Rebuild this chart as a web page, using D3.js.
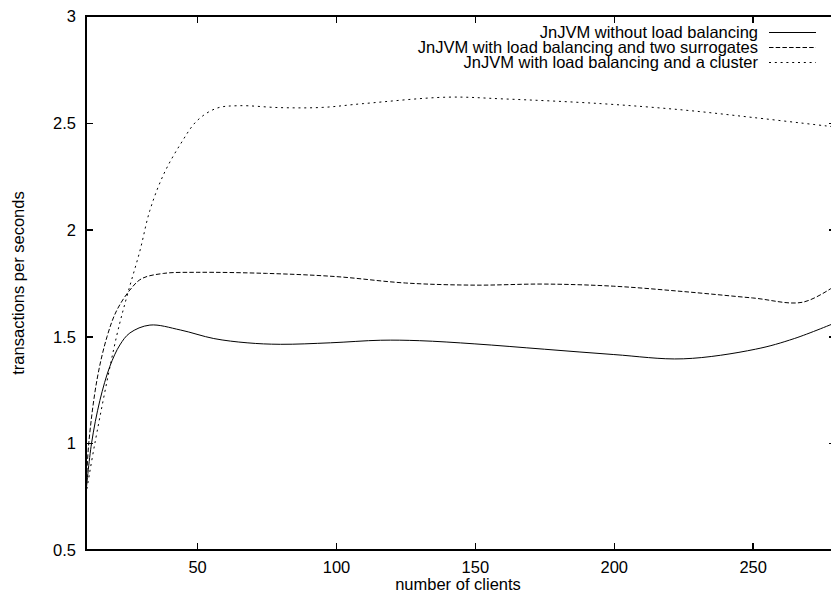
<!DOCTYPE html>
<html>
<head>
<meta charset="utf-8">
<script src="https://cdn.jsdelivr.net/npm/d3@7"></script>
<style>
  body { margin: 0; background: #fff; }
  svg text { font-family: "Liberation Sans", Arial, Helvetica, sans-serif; }
</style>
</head>
<body>
<div id="chart"></div>
<script>
// number of clients vs transactions per second
var clientsNone = [10, 12, 15, 18.6, 22.2, 25.8, 33, 44, 56, 68, 80, 98, 116, 130, 150, 175, 200, 225, 251, 265, 280];
var tpsNone =     [0.77, 1.0, 1.2, 1.36, 1.46, 1.516, 1.553, 1.53, 1.49, 1.47, 1.463, 1.47, 1.482, 1.48, 1.465, 1.44, 1.415, 1.395, 1.44, 1.49, 1.565];

var clientsTwo = [10, 11, 14, 17.6, 21, 25.8, 30, 38, 50, 75, 100, 125, 150, 175, 200, 225, 250, 268, 280];
var tpsTwo =     [0.77, 1.0, 1.3, 1.5, 1.62, 1.717, 1.77, 1.795, 1.80, 1.795, 1.78, 1.75, 1.74, 1.745, 1.735, 1.71, 1.68, 1.66, 1.74];

var clientsCluster = [10, 13.2, 21, 25, 29.4, 33, 38, 44, 50, 57, 65, 80, 95, 110, 140, 160, 195, 225, 250, 280];
var tpsCluster =     [0.76, 1.0, 1.5, 1.70, 1.90, 2.09, 2.26, 2.40, 2.51, 2.568, 2.58, 2.571, 2.572, 2.59, 2.62, 2.612, 2.59, 2.56, 2.525, 2.48];

var seriesNames = [
    "JnJVM without load balancing",
    "JnJVM with load balancing and two surrogates",
    "JnJVM with load balancing and a cluster"
];
var xTicks = [50, 100, 150, 200, 250];
var yTicks = [0.5, 1, 1.5, 2, 2.5, 3];

var width = 831, height = 601;
var plotLeft = 86, plotRight = 836, plotTop = 16, plotBottom = 550;
var fontSize = "16.5px";

var svg = d3.select("#chart")
    .append("svg")
    .attr("width", width)
    .attr("height", height);

var x = d3.scaleLinear().domain([10, 280]).range([plotLeft, plotRight]);
var y = d3.scaleLinear().domain([0.5, 3]).range([plotBottom, plotTop]);

svg.append("defs").append("clipPath")
    .attr("id", "plotClip")
    .append("rect")
    .attr("x", plotLeft)
    .attr("y", plotTop)
    .attr("width", plotRight - plotLeft)
    .attr("height", plotBottom - plotTop);

// ticks on all four sides, pointing inward
var tickLen = 7;
var axes = [
    { axis: d3.axisBottom(x), tr: "translate(0," + plotBottom + ")", text: true },
    { axis: d3.axisTop(x), tr: "translate(0," + plotTop + ")", text: false },
    { axis: d3.axisLeft(y), tr: "translate(" + plotLeft + ",0)", text: true },
    { axis: d3.axisRight(y), tr: "translate(" + plotRight + ",0)", text: false }
];
axes.forEach(function (a, i) {
    var isX = i < 2;
    a.axis.tickValues(isX ? xTicks : yTicks)
        .tickSizeInner(-tickLen)
        .tickSizeOuter(0)
        .tickFormat(d3.format("~g"));
    var g = svg.append("g").attr("transform", a.tr).call(a.axis);
    g.select(".domain").remove();
    g.selectAll(".tick line")
        .style("stroke", "#000")
        .style("stroke-width", "1.5px")
        .style("shape-rendering", "crispEdges");
    if (!a.text) {
        g.selectAll(".tick text").remove();
    } else {
        g.selectAll(".tick text")
            .style("fill", "#000")
            .style("font-size", fontSize)
            .style("font-family", "'Liberation Sans', Arial, sans-serif");
    }
    if (i == 0) g.selectAll(".tick text").attr("y", 11).attr("dy", "0.71em");
    if (i == 2) g.selectAll(".tick text").attr("x", -10).attr("dy", "0.35em");
});

// border
svg.append("rect")
    .attr("x", plotLeft)
    .attr("y", plotTop)
    .attr("width", plotRight - plotLeft)
    .attr("height", plotBottom - plotTop)
    .style("fill", "none")
    .style("stroke", "#000")
    .style("stroke-width", "1.5px")
    .style("shape-rendering", "crispEdges");

var dashes = [null, "4.5,2.2", "2,3.8"];
var series = [
    d3.zip(clientsNone, tpsNone),
    d3.zip(clientsTwo, tpsTwo),
    d3.zip(clientsCluster, tpsCluster)
];

var line = d3.line()
    .x(function (d) { return x(d[0]); })
    .y(function (d) { return y(d[1]); })
    .curve(d3.curveCatmullRom.alpha(0.5));

var plot = svg.append("g").attr("clip-path", "url(#plotClip)");
series.forEach(function (s, i) {
    plot.append("path")
        .datum(s)
        .attr("d", line)
        .style("fill", "none")
        .style("stroke", "#000")
        .style("stroke-width", "1px")
        .style("stroke-dasharray", dashes[i]);
});

// legend
var legend = svg.append("g");
seriesNames.forEach(function (name, i) {
    var ly = 32 + i * 15;
    legend.append("text")
        .attr("x", 758)
        .attr("y", ly)
        .attr("dy", "0.35em")
        .attr("text-anchor", "end")
        .style("font-size", fontSize)
        .text(name);
    legend.append("line")
        .attr("x1", 769)
        .attr("x2", 816)
        .attr("y1", ly + 0.5)
        .attr("y2", ly + 0.5)
        .style("stroke", "#000")
        .style("stroke-width", "1px")
        .style("stroke-dasharray", dashes[i]);
});

// axis titles
svg.append("text")
    .attr("x", (plotLeft + 830) / 2)
    .attr("y", 590)
    .attr("text-anchor", "middle")
    .style("font-size", fontSize)
    .text("number of clients");

svg.append("text")
    .attr("transform", "translate(24," + ((plotTop + plotBottom) / 2) + ") rotate(-90)")
    .attr("text-anchor", "middle")
    .style("font-size", fontSize)
    .text("transactions per seconds");
</script>
</body>
</html>
